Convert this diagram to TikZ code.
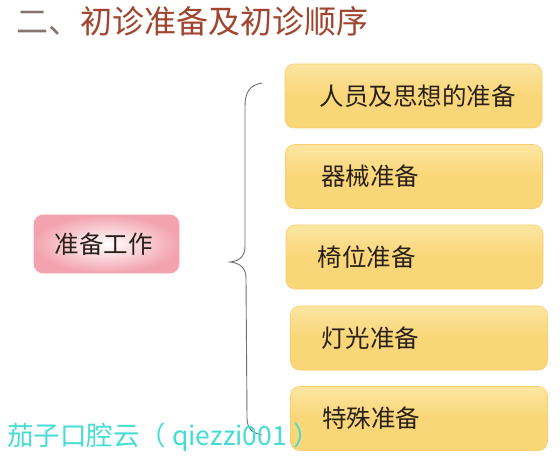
\documentclass[tikz,border=0pt]{standalone}
\usepackage{fontspec}
\newfontfamily\cjk{Noto Sans CJK SC}
\definecolor{titlered}{HTML}{A0442E}
\definecolor{titlegray}{HTML}{857370}
\definecolor{pinkedge}{HTML}{F3A3AE}
\definecolor{yellowbox}{HTML}{F9D677}
\definecolor{yellowlight}{HTML}{FCE6A2}
\definecolor{wmark}{HTML}{45DDD3}
\definecolor{bracegray}{HTML}{707070}
\definecolor{boxtext}{HTML}{2A2018}
\tikzset{
  ybox/.style={rounded corners=9pt, minimum width=257pt, minimum height=64pt,
    inner sep=0pt, top color=yellowlight, bottom color=yellowbox, middle color=yellowbox,
    draw=yellowbox!90!orange, line width=0.6pt},
  pbox/.style={rounded corners=9pt, minimum width=145pt, minimum height=58pt,
    inner sep=0pt, inner color=white, outer color=pinkedge, draw=pinkedge, line width=0.6pt},
  btext/.style={anchor=west, font=\cjk\fontsize{24.5pt}{26pt}\selectfont, text=boxtext, inner sep=0pt},
}
\begin{document}
\begin{tikzpicture}[x=1pt,y=-1pt]
\useasboundingbox (0,0) rectangle (560,476);
\fill[white] (0,0) rectangle (560,476);
% title
\node[anchor=west, inner sep=0pt, font=\cjk\fontsize{32pt}{34pt}\selectfont] (title) at (16,21)
  {\textcolor{titlegray}{二、}\textcolor{titlered}{初诊准备及初诊顺序}};
% left box
\node[pbox] (work) at (106.5,244) {};
\node[btext, anchor=center] (worktext) at ([xshift=-3pt]work.center) {准备工作};
% right boxes
\node[ybox] (b1) at (413.5,96) {};
\node[ybox] (b2) at (414,176.5) {};
\node[ybox] (b3) at (414.5,257) {};
\node[ybox] (b4) at (419,338) {};
\node[ybox] (b5) at (419,418.5) {};
\node[btext] (t1) at ([xshift=35pt]b1.west) {人员及思想的准备};
\node[btext] (t2) at ([xshift=36pt]b2.west) {器械准备};
\node[btext] (t3) at ([xshift=32pt]b3.west) {椅位准备};
\node[btext] (t4) at ([xshift=31pt]b4.west) {灯光准备};
\node[btext] (t5) at ([xshift=32pt]b5.west) {特殊准备};
% brace
\coordinate (btop) at (262,83);
\coordinate (btip) at (230,262);
\coordinate (bbot) at (262,435);
\draw[bracegray, line width=0.9pt]
  (btop) .. controls (250,85) and (245,92) .. (245,106)
  -- (245,246) .. controls (245,256) and (240,261) .. (btip)
  .. controls (240,263) and (246,268) .. (246,278)
  -- (247,418) .. controls (247,428) and (252,433) .. (bbot);
% watermark
\node[anchor=west, inner sep=0pt, text=wmark, font=\cjk\fontsize{26.5pt}{28pt}\selectfont] (wm) at (7,437)
  {茄子口腔云（ qiezzi001 ）};
\end{tikzpicture}
\end{document}
